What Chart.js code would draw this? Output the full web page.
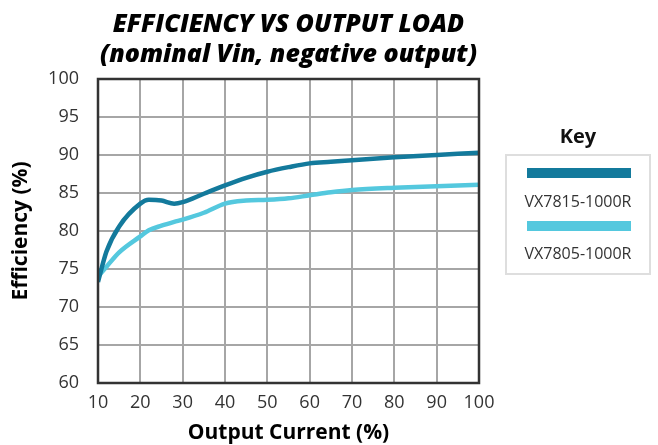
<!DOCTYPE html>
<html>
<head>
<meta charset="utf-8">
<script src="https://cdn.jsdelivr.net/npm/chart.js@4"></script>
<style>
  body { margin: 0; background: #fff; font-family: "Open Sans", sans-serif; }
  #wrap { position: relative; width: 658px; height: 445px; }
  #key-title { position: absolute; left: 505px; width: 146px; top: 122px; text-align: center;
    font-weight: 700; font-size: 20px; color: #111; }
  #key { position: absolute; left: 505px; top: 154px; width: 142px; height: 117px;
    border: 2px solid #dedede; }
  .swatch { position: absolute; left: 20px; width: 104px; height: 10px; }
  .lbl { position: absolute; left: 0; width: 142px; text-align: center; font-size: 16px; color: #333; }
</style>
</head>
<body>
<div id="wrap">
  <canvas id="grafica" width="658" height="445"></canvas>
  <div id="key-title">Key</div>
  <div id="key">
    <div class="swatch" style="top:12px;background:#137a9c"></div>
    <div class="lbl" style="top:34px">VX7815-1000R</div>
    <div class="swatch" style="top:65px;background:#54c8de"></div>
    <div class="lbl" style="top:86px">VX7805-1000R</div>
  </div>
</div>
<script>
const carga = [10, 12, 15, 20, 22, 25, 28, 30, 35, 40, 45, 50, 55, 60, 65, 70, 80, 90, 100];
const vx7815 = [73.3, 77.3, 80.6, 83.6, 84.1, 84.0, 83.6, 83.8, 84.9, 86.0, 87.0, 87.8, 88.4, 88.9, 89.1, 89.3, 89.7, 90.0, 90.3];
const vx7805 = [74.0, 75.3, 77.2, 79.3, 80.1, 80.7, 81.2, 81.5, 82.4, 83.6, 84.0, 84.1, 84.3, 84.7, 85.1, 85.4, 85.7, 85.9, 86.1];
const nombres = ['VX7815-1000R', 'VX7805-1000R'];
const tituloLineas = ['EFFICIENCY VS OUTPUT LOAD', '(nominal Vin, negative output)'];

const marco = {
    id: 'marco',
    afterDatasetsDraw(chart) {
        const a = chart.chartArea;
        const ctx = chart.ctx;
        ctx.save();
        ctx.strokeStyle = '#333';
        ctx.lineWidth = 2.5;
        ctx.strokeRect(a.left, a.top, a.right - a.left, a.bottom - a.top);
        ctx.restore();
    }
};

const ctx = document.getElementById('grafica').getContext('2d');
new Chart(ctx, {
    type: 'line',
    data: {
        datasets: [
            {
                label: nombres[0],
                data: carga.map((x, i) => ({ x: x, y: vx7815[i] })),
                borderColor: '#137a9c',
                borderWidth: 4.5,
                pointRadius: 0,
                cubicInterpolationMode: 'monotone'
            },
            {
                label: nombres[1],
                data: carga.map((x, i) => ({ x: x, y: vx7805[i] })),
                borderColor: '#54c8de',
                borderWidth: 4.5,
                pointRadius: 0,
                cubicInterpolationMode: 'monotone'
            }
        ]
    },
    plugins: [marco],
    options: {
        responsive: false,
        animation: false,
        layout: { padding: { left: 0, right: 179, top: 4, bottom: 0 } },
        plugins: {
            legend: { display: false },
            tooltip: { enabled: false },
            title: {
                display: true,
                fullSize: false,
                text: tituloLineas,
                color: '#000',
                font: { family: 'Open Sans', size: 25, weight: 800, style: 'italic', lineHeight: 1.2 },
                padding: { top: 6, bottom: 9 }
            }
        },
        scales: {
            x: {
                type: 'linear',
                min: 10,
                max: 100,
                ticks: { stepSize: 10, color: '#333', padding: 9, font: { family: 'Open Sans', size: 18 } },
                grid: { color: '#a6a6a6', lineWidth: 2, drawTicks: false },
                border: { display: false },
                title: { display: true, text: 'Output Current (%)', color: '#000', padding: { top: 0, bottom: -1 },
                    font: { family: 'Open Sans', size: 21, weight: 700 } },
                afterFit: s => { s.height = 62; }
            },
            y: {
                min: 60,
                max: 100,
                ticks: { stepSize: 5, color: '#333', padding: 19, font: { family: 'Open Sans', size: 18 } },
                grid: { color: '#a6a6a6', lineWidth: 2, drawTicks: false },
                border: { display: false },
                title: { display: true, text: 'Efficiency (%)', color: '#000', padding: { top: 8, bottom: 0 },
                    font: { family: 'Open Sans', size: 21, weight: 700 } },
                afterFit: s => { s.width = 98; }
            }
        }
    }
});
</script>
</body>
</html>
